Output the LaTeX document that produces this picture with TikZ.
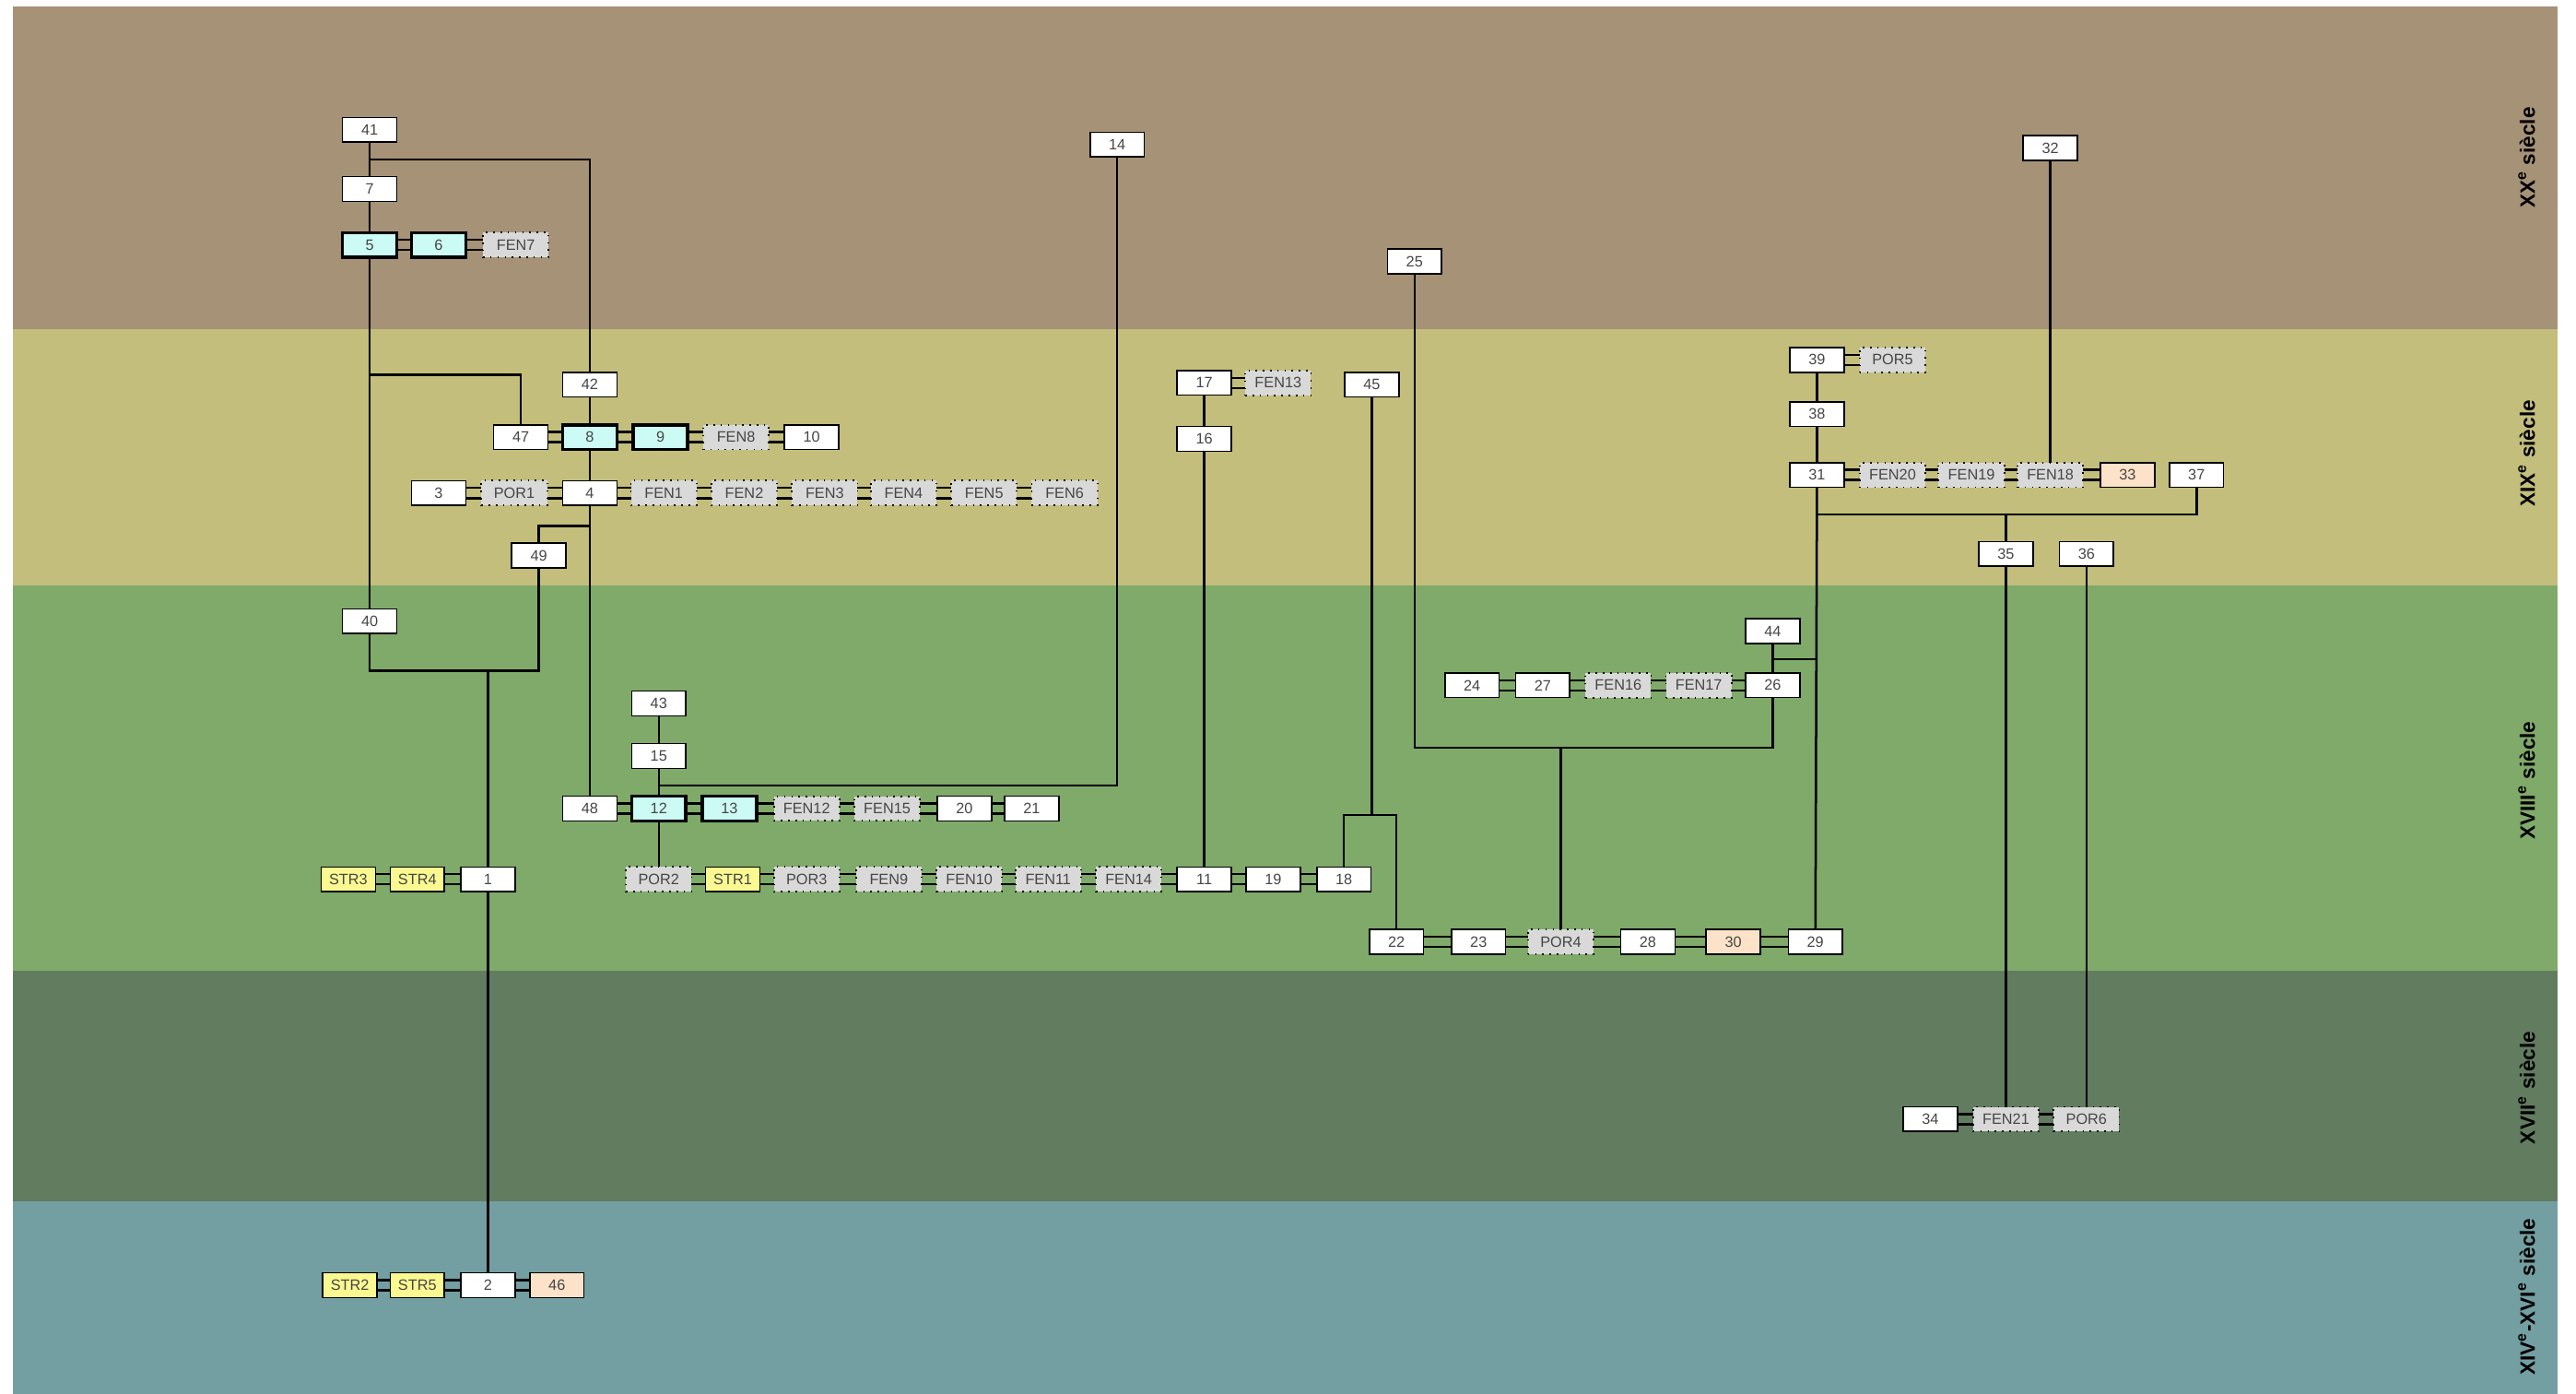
\documentclass[tikz,border=0pt]{standalone}
\usepackage{fontspec}
\setmainfont{Liberation Sans}
\usepackage{tikz}
\usetikzlibrary{positioning}
\usepackage{xcolor}
\definecolor{bandxx}{RGB}{166, 146, 118}
\definecolor{bandxix}{RGB}{195, 190, 124}
\definecolor{bandxviii}{RGB}{127, 170, 106}
\definecolor{bandxvii}{RGB}{98, 124, 95}
\definecolor{bandxiv}{RGB}{115, 159, 162}
\definecolor{phasecyan}{RGB}{204, 250, 245}
\definecolor{openinggrey}{RGB}{217, 217, 217}
\definecolor{stratyellow}{RGB}{250, 248, 145}
\definecolor{peach}{RGB}{252, 226, 200}
\definecolor{boxtext}{RGB}{70, 70, 70}
\newcommand{\twinlink}[2]{\draw[link] ([yshift=0.062cm]#1.east) -- ([yshift=0.062cm]#2.west) ([yshift=-0.062cm]#1.east) -- ([yshift=-0.062cm]#2.west);}

\begin{document}
\begin{tikzpicture}[x=0.02cm, y=-0.02cm,
    usbox/.style={draw, rectangle, fill=white, line width=0.5pt, minimum width=0.66cm, minimum height=0.3cm, inner sep=0pt, outer sep=0pt, text=boxtext, font=\fontsize{5.2}{6}\selectfont},
    phasebox/.style={usbox, fill=phasecyan, line width=1.1pt},
    openbox/.style={usbox, fill=openinggrey, dotted, line width=0.6pt, minimum width=0.8cm},
    strbox/.style={usbox, fill=stratyellow},
    pinkbox/.style={usbox, fill=peach},
    link/.style={line width=0.8pt},
    era/.style={rotate=90, text=black, font=\bfseries\fontsize{7.2}{8}\selectfont}]
    \useasboundingbox (0,0) rectangle (1568,848);
    \fill[white] (0,0) rectangle (1568,848);
    \fill[bandxx] (8,4) rectangle (1557,200);
    \fill[bandxix] (8,200) rectangle (1557,356);
    \fill[bandxviii] (8,356) rectangle (1557,591);
    \fill[bandxvii] (8,591) rectangle (1557,731);
    \fill[bandxiv] (8,731) rectangle (1557,848);
    \node[era] (eraxx) at (1538,96) {XX\textsuperscript{e} siècle};
    \node[era] (eraxix) at (1538,276) {XIX\textsuperscript{e} siècle};
    \node[era] (eraxviii) at (1538,475) {XVIII\textsuperscript{e} siècle};
    \node[era] (eraxvii) at (1538,662) {XVII\textsuperscript{e} siècle};
    \node[era] (eraxiv) at (1538,789) {XIV\textsuperscript{e}-XVI\textsuperscript{e} siècle};

    \node[usbox] (u41) at (225,79) {41};
    \node[usbox] (u7) at (225,115) {7};
    \node[phasebox] (u5) at (225,149) {5};
    \node[phasebox] (u6) at (267,149) {6};
    \node[openbox] (fen7) at (314,149) {FEN7};
    \node[usbox] (u14) at (680,88) {14};
    \node[usbox] (u32) at (1248,90) {32};
    \node[usbox] (u25) at (861,159) {25};

    \node[usbox] (u39) at (1106,219) {39};
    \node[openbox] (por5) at (1152,219) {POR5};
    \node[usbox] (u42) at (359,234) {42};
    \node[usbox] (u17) at (733,233) {17};
    \node[openbox] (fen13) at (778,233) {FEN13};
    \node[usbox] (u45) at (835,234) {45};
    \node[usbox] (u38) at (1106,252) {38};
    \node[usbox] (u47) at (317,266) {47};
    \node[phasebox] (u8) at (359,266) {8};
    \node[phasebox] (u9) at (402,266) {9};
    \node[openbox] (fen8) at (448,266) {FEN8};
    \node[usbox] (u10) at (494,266) {10};
    \node[usbox] (u16) at (733,267) {16};
    \node[usbox] (u31) at (1106,289) {31};
    \node[openbox] (fen20) at (1152,289) {FEN20};
    \node[openbox] (fen19) at (1200,289) {FEN19};
    \node[openbox] (fen18) at (1248,289) {FEN18};
    \node[pinkbox] (u33) at (1295,289) {33};
    \node[usbox] (u37) at (1337,289) {37};
    \node[usbox] (u3) at (267,300) {3};
    \node[openbox] (por1) at (313,300) {POR1};
    \node[usbox] (u4) at (359,300) {4};
    \node[openbox] (fen1) at (404,300) {FEN1};
    \node[openbox] (fen2) at (453,300) {FEN2};
    \node[openbox] (fen3) at (502,300) {FEN3};
    \node[openbox] (fen4) at (550,300) {FEN4};
    \node[openbox] (fen5) at (599,300) {FEN5};
    \node[openbox] (fen6) at (648,300) {FEN6};
    \node[usbox] (u49) at (328,338) {49};
    \node[usbox] (u35) at (1221,337) {35};
    \node[usbox] (u36) at (1270,337) {36};

    \node[usbox] (u40) at (225,378) {40};
    \node[usbox] (u44) at (1079,384) {44};
    \node[usbox] (u24) at (896,417) {24};
    \node[usbox] (u27) at (939,417) {27};
    \node[openbox] (fen16) at (985,417) {FEN16};
    \node[openbox] (fen17) at (1034,417) {FEN17};
    \node[usbox] (u26) at (1079,417) {26};
    \node[usbox] (u43) at (401,428) {43};
    \node[usbox] (u15) at (401,460) {15};
    \node[usbox] (u48) at (359,492) {48};
    \node[phasebox] (u12) at (401,492) {12};
    \node[phasebox] (u13) at (444,492) {13};
    \node[openbox] (fen12) at (491,492) {FEN12};
    \node[openbox] (fen15) at (540,492) {FEN15};
    \node[usbox] (u20) at (587,492) {20};
    \node[usbox] (u21) at (628,492) {21};
    \node[strbox] (str3) at (212,535) {STR3};
    \node[strbox] (str4) at (254,535) {STR4};
    \node[usbox] (u1) at (297,535) {1};
    \node[openbox] (por2) at (401,535) {POR2};
    \node[strbox] (str1) at (446,535) {STR1};
    \node[openbox] (por3) at (491,535) {POR3};
    \node[openbox] (fen9) at (541,535) {FEN9};
    \node[openbox] (fen10) at (590,535) {FEN10};
    \node[openbox] (fen11) at (638,535) {FEN11};
    \node[openbox] (fen14) at (687,535) {FEN14};
    \node[usbox] (u11) at (733,535) {11};
    \node[usbox] (u19) at (775,535) {19};
    \node[usbox] (u18) at (818,535) {18};
    \node[usbox] (u22) at (850,573) {22};
    \node[usbox] (u23) at (900,573) {23};
    \node[openbox] (por4) at (950,573) {POR4};
    \node[usbox] (u28) at (1003,573) {28};
    \node[pinkbox] (u30) at (1055,573) {30};
    \node[usbox] (u29) at (1105,573) {29};

    \node[usbox] (u34) at (1175,681) {34};
    \node[openbox] (fen21) at (1221,681) {FEN21};
    \node[openbox] (por6) at (1270,681) {POR6};
    \node[strbox] (str2) at (213,782) {STR2};
    \node[strbox] (str5) at (254,782) {STR5};
    \node[usbox] (u2) at (297,782) {2};
    \node[pinkbox] (u46) at (339,782) {46};

    \coordinate (j41) at (225,97);
    \coordinate (j5) at (225,228);
    \coordinate (j4) at (359,320);
    \coordinate (j49) at (328,408);
    \coordinate (j1) at (297,408);
    \coordinate (j15) at (401,478);
    \coordinate (j45) at (835,496);
    \coordinate (j25) at (950,455);
    \coordinate (j44) at (1079,401);
    \coordinate (j31) at (1106,313);
    \coordinate (j35) at (1221,313);

    \draw[link] (u41) -- (u7);
    \draw[link] (u7) -- (u5);
    \draw[link] (j41) -| (u42);
    \draw[link] (u5) -- (u40);
    \draw[link] (j5) -| (u47);
    \draw[link] (u42) -- (u8);
    \draw[link] (u8) -- (u4);
    \draw[link] (u4) -- (u48);
    \draw[link] (j4) -| (u49);
    \draw[link] (u40) |- (j49) -- (u49);
    \draw[link] (j1) -- (u1);
    \draw[link] (u1) -- (u2);
    \draw[link] (u43) -- (u15);
    \draw[link] (u15) -- (u12);
    \draw[link] (j15) -| (u14);
    \draw[link] (u12) -- (por2);
    \draw[link] (u17) -- (u16);
    \draw[link] (u16) -- (u11);
    \draw[link] (u45) -- (j45);
    \draw[link] (u18) |- (j45) -| (u22);
    \draw[link] (u25) |- (j25) -| (u26);
    \draw[link] (j25) -- (por4);
    \draw[link] (u44) -- (u26);
    \draw[link] (j44) -- (j44 -| u31);
    \draw[link] (u39) -- (u38);
    \draw[link] (u38) -- (u31);
    \draw[link] (u31) -- (u29);
    \draw[link] (j31) -| (u37);
    \draw[link] (j35) -- (u35);
    \draw[link] (u32) -- (fen18);
    \draw[link] (u35) -- (fen21);
    \draw[link] (u36) -- (por6);

    \twinlink{u5}{u6}
    \twinlink{u6}{fen7}
    \twinlink{u39}{por5}
    \twinlink{u17}{fen13}
    \twinlink{u47}{u8}
    \twinlink{u8}{u9}
    \twinlink{u9}{fen8}
    \twinlink{fen8}{u10}
    \twinlink{u31}{fen20}
    \twinlink{fen20}{fen19}
    \twinlink{fen19}{fen18}
    \twinlink{fen18}{u33}
    \twinlink{u3}{por1}
    \twinlink{por1}{u4}
    \twinlink{u4}{fen1}
    \twinlink{fen1}{fen2}
    \twinlink{fen2}{fen3}
    \twinlink{fen3}{fen4}
    \twinlink{fen4}{fen5}
    \twinlink{fen5}{fen6}
    \twinlink{u24}{u27}
    \twinlink{u27}{fen16}
    \twinlink{fen16}{fen17}
    \twinlink{fen17}{u26}
    \twinlink{u48}{u12}
    \twinlink{u12}{u13}
    \twinlink{u13}{fen12}
    \twinlink{fen12}{fen15}
    \twinlink{fen15}{u20}
    \twinlink{u20}{u21}
    \twinlink{str3}{str4}
    \twinlink{str4}{u1}
    \twinlink{por2}{str1}
    \twinlink{str1}{por3}
    \twinlink{por3}{fen9}
    \twinlink{fen9}{fen10}
    \twinlink{fen10}{fen11}
    \twinlink{fen11}{fen14}
    \twinlink{fen14}{u11}
    \twinlink{u11}{u19}
    \twinlink{u19}{u18}
    \twinlink{u22}{u23}
    \twinlink{u23}{por4}
    \twinlink{por4}{u28}
    \twinlink{u28}{u30}
    \twinlink{u30}{u29}
    \twinlink{u34}{fen21}
    \twinlink{fen21}{por6}
    \twinlink{str2}{str5}
    \twinlink{str5}{u2}
    \twinlink{u2}{u46}
\end{tikzpicture}
\end{document}
